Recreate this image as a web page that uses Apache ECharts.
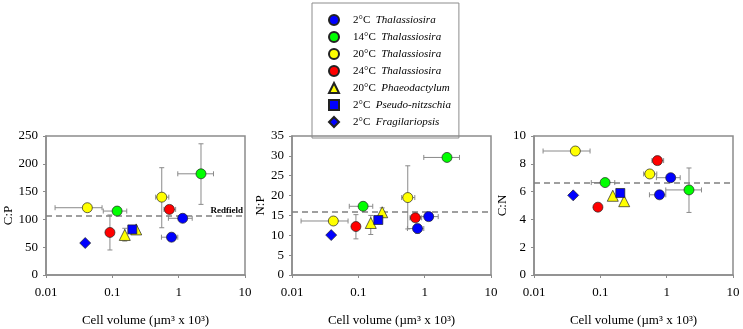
<!DOCTYPE html>
<html>
<head>
<meta charset="utf-8">
<script src="https://cdn.jsdelivr.net/npm/echarts@6/dist/echarts.min.js"></script>
<style>
  html, body { margin: 0; padding: 0; background: #fff; }
  #chart { width: 743px; height: 329px; }
</style>
</head>
<body>
<div id="chart"></div>
<script>
// groups shown in the legend
const groupNames = ['2°C Thalassiosira', '14°C Thalassiosira', '20°C Thalassiosira', '24°C Thalassiosira',
  '20°C Phaeodactylum', '2°C Pseudo-nitzschia', '2°C Fragilariopsis'];

// one entry per plotted point (group index)
const pointGroup = [0, 0, 1, 1, 2, 2, 3, 3, 4, 4, 5, 6];
const cellVolume = [0.78, 1.15, 0.118, 2.17, 0.042, 0.556, 0.092, 0.725, 0.154, 0.229, 0.2, 0.039];
const volLow     = [0.55, 0.7, 0.073, 0.97, 0.0137, 0.45, null, 0.6, null, null, null, null];
const volHigh    = [0.97, 1.6, 0.165, 3.35, 0.07, 0.71, null, 0.9, null, null, null, null];

const ratioCP = [68, 102, 115, 182, 121, 140, 76.5, 118, 72, 82, 82, 57.5];
const cpLow   = [null, null, null, 127, null, 85, 45, null, 61, null, null, null];
const cpHigh  = [null, null, null, 236, null, 193, 108, null, 84, null, null, null];

const ratioNP = [11.7, 14.7, 17.3, 29.6, 13.6, 19.5, 12.2, 14.4, 13.1, 15.8, 13.85, 10.05];
const npLow   = [10.5, null, null, null, null, 11.6, 9.1, null, 10.2, 14.6, null, null];
const npHigh  = [12.6, null, null, null, null, 27.5, 15.2, null, 15.0, 16.9, null, null];

const ratioCN = [5.77, 7.0, 6.65, 6.12, 8.92, 7.27, 4.88, 8.23, 5.7, 5.31, 5.9, 5.73];
const cnLow   = [null, null, null, 4.5, null, null, null, null, null, null, null, null];
const cnHigh  = [null, null, null, 7.7, null, null, null, null, null, null, null, null];

const redfieldRatio = [106, 16, 6.625];
const xTicks = [0.01, 0.1, 1, 10];

// styles
const groupColors = ['#0000ff', '#00ff00', '#ffff00', '#ff0000', '#ffff00', '#0000ff', '#0000ff'];
const groupSymbols = ['circle', 'circle', 'circle', 'circle', 'triangle', 'rect', 'diamond'];
const groupSizes = [10, 10, 10, 10, 11, 9, 11];
const font = 'Liberation Serif';
const frameColor = '#8c8c8c';

const panels = [
  { name: 'C:P', values: ratioCP, low: cpLow, high: cpHigh, max: 250, interval: 50, left: 46, nameGap: 31, namePad: [0, 20, 0, 0] },
  { name: 'N:P', values: ratioNP, low: npLow, high: npHigh, max: 35, interval: 5, left: 292, nameGap: 25, namePad: 0 },
  { name: 'C:N', values: ratioCN, low: cnLow, high: cnHigh, max: 10, interval: 2, left: 534, nameGap: 23, namePad: 0 }
];

const chart = echarts.init(document.getElementById('chart'), null, { renderer: 'canvas' });

const grids = [], xAxes = [], yAxes = [], series = [];

panels.forEach((p, pi) => {
  grids.push({ left: p.left, top: 136, width: 199, height: 139, show: true,
    borderColor: frameColor, borderWidth: 1.5, backgroundColor: 'transparent' });

  xAxes.push({
    type: 'log', gridIndex: pi, min: 0.01, max: 10, logBase: 10,
    name: 'Cell volume (µm³ x 10³)', nameLocation: 'middle', nameGap: 39,
    nameTextStyle: { fontFamily: font, fontSize: 13, color: '#000' },
    axisLine: { lineStyle: { color: frameColor, width: 1.5 } },
    axisTick: { show: true, length: 3, lineStyle: { color: frameColor } },
    minorTick: { show: false },
    splitLine: { show: false },
    axisLabel: { fontFamily: font, fontSize: 13, color: '#000', margin: 11,
      formatter: v => String(xTicks.find(t => Math.abs(t - v) / t < 1e-6) ?? v) }
  });

  yAxes.push({
    type: 'value', gridIndex: pi, min: 0, max: p.max, interval: p.interval,
    name: p.name, nameLocation: 'middle', nameGap: p.nameGap, nameRotate: 90,
    nameTextStyle: { fontFamily: font, fontSize: 13, color: '#000', padding: p.namePad },
    axisLine: { show: true, lineStyle: { color: frameColor, width: 1.5 } },
    axisTick: { show: true, length: 3, lineStyle: { color: frameColor } },
    splitLine: { show: false },
    axisLabel: { fontFamily: font, fontSize: 13, color: '#000', margin: 8 }
  });

  // error bars
  const errData = cellVolume.map((v, k) => [
    v, p.values[k],
    volLow[k] ?? v, volHigh[k] ?? v,
    p.low[k] ?? p.values[k], p.high[k] ?? p.values[k]
  ]);
  series.push({
    type: 'custom', xAxisIndex: pi, yAxisIndex: pi, silent: true, z: 1,
    encode: { x: 0, y: 1 },
    data: errData,
    renderItem: function (params, api) {
      const x = api.value(0), y = api.value(1);
      const xl = api.value(2), xh = api.value(3), yl = api.value(4), yh = api.value(5);
      const style = { stroke: '#8a8a8a', lineWidth: 1 };
      const cap = 2.5;
      const children = [];
      if (xl !== xh) {
        const a = api.coord([xl, y]), b = api.coord([xh, y]);
        children.push({ type: 'line', shape: { x1: a[0], y1: a[1], x2: b[0], y2: b[1] }, style });
        children.push({ type: 'line', shape: { x1: a[0], y1: a[1] - cap, x2: a[0], y2: a[1] + cap }, style });
        children.push({ type: 'line', shape: { x1: b[0], y1: b[1] - cap, x2: b[0], y2: b[1] + cap }, style });
      }
      if (yl !== yh) {
        const a = api.coord([x, yl]), b = api.coord([x, yh]);
        children.push({ type: 'line', shape: { x1: a[0], y1: a[1], x2: b[0], y2: b[1] }, style });
        children.push({ type: 'line', shape: { x1: a[0] - cap, y1: a[1], x2: a[0] + cap, y2: a[1] }, style });
        children.push({ type: 'line', shape: { x1: b[0] - cap, y1: b[1], x2: b[0] + cap, y2: b[1] }, style });
      }
      return { type: 'group', children };
    }
  });

  // points, one series per group
  groupNames.forEach((g, gi) => {
    const data = [];
    pointGroup.forEach((pg, k) => { if (pg === gi) data.push([cellVolume[k], p.values[k]]); });
    const s = {
      type: 'scatter', name: g, xAxisIndex: pi, yAxisIndex: pi, z: 3,
      symbol: groupSymbols[gi], symbolSize: groupSizes[gi],
      itemStyle: { color: groupColors[gi], borderColor: '#222', borderWidth: 0.7, opacity: 1 },
      data
    };
    if (gi === 0) {
      s.markLine = {
        silent: true, symbol: 'none', z: 2,
        data: [{ yAxis: redfieldRatio[pi] }],
        lineStyle: { type: [6, 4], color: '#808080', width: 1.5 },
        label: pi === 0 ? { show: true, position: 'insideEndTop', formatter: 'Redfield',
          fontFamily: font, fontSize: 9, fontWeight: 'bold', color: '#000', distance: [2, 1] } : { show: false }
      };
    }
    series.push(s);
  });
});

chart.setOption({
  animation: false,
  backgroundColor: '#fff',
  legend: {
    data: groupNames.map((g, gi) => ({ name: g, icon: groupSymbols[gi] })),
    orient: 'vertical',
    left: 312, top: 3,
    padding: [11, 8, 10, 16],
    itemWidth: 10, itemHeight: 10, itemGap: 5,
    borderColor: '#8c8c8c', borderWidth: 1,
    selectedMode: false,
    formatter: name => {
      const i = name.indexOf(' ');
      return '{n|' + name.slice(0, i) + '}  {g|' + name.slice(i + 1) + '}';
    },
    textStyle: {
      fontFamily: font, fontSize: 11, color: '#000', padding: [0, 0, 0, 9],
      rich: {
        n: { fontFamily: font, fontSize: 11, color: '#000' },
        g: { fontFamily: font, fontSize: 11, fontStyle: 'italic', color: '#000' }
      }
    }
  },
  grid: grids,
  xAxis: xAxes,
  yAxis: yAxes,
  series
});
</script>
</body>
</html>
